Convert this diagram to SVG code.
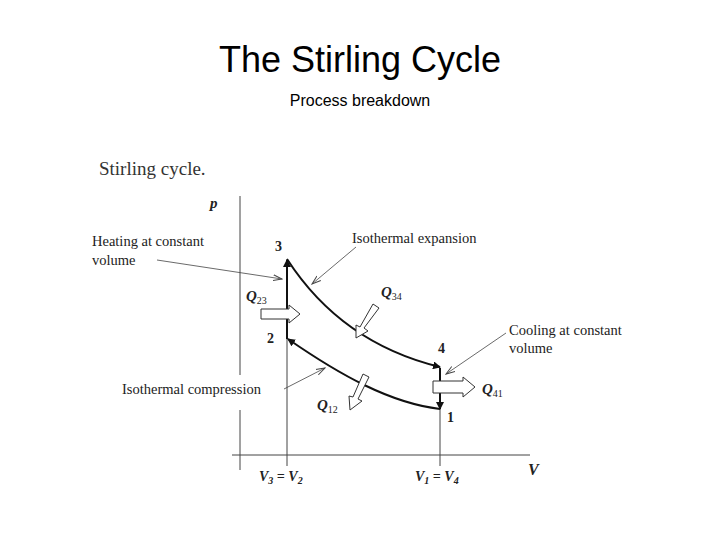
<svg xmlns="http://www.w3.org/2000/svg" width="720" height="540" viewBox="0 0 720 540">
<style>
.t{font-family:"Liberation Serif",serif;fill:#222;font-size:14.5px}
.b{font-family:"Liberation Serif",serif;font-weight:bold;font-style:italic;fill:#222}
.n{font-family:"Liberation Serif",serif;font-weight:bold;fill:#222;font-size:14px}
.ax{stroke:#444;stroke-width:1;fill:none}
.c{stroke:#111;stroke-width:2;fill:none;marker-end:url(#ah)}
.th{stroke:#444;stroke-width:0.8;fill:none;marker-end:url(#sa)}
.h{fill:#fff;stroke:#333;stroke-width:1}
</style>
<defs>
<marker id="ah" markerWidth="8" markerHeight="8" refX="7" refY="4" orient="auto" markerUnits="userSpaceOnUse"><path d="M0,0 L8,4 L0,8 z" fill="#111"/></marker>
<marker id="sa" markerWidth="10" markerHeight="8" refX="9" refY="4" orient="auto" markerUnits="userSpaceOnUse"><path d="M0,1 L9,4 L0,7" fill="none" stroke="#444"/></marker>
</defs>
<rect width="720" height="540" fill="#fff"/>
<text x="360" y="72" text-anchor="middle" font-family="Liberation Sans,sans-serif" font-size="36">The Stirling Cycle</text>
<text x="360" y="106" text-anchor="middle" font-family="Liberation Sans,sans-serif" font-size="16">Process breakdown</text>
<text x="99" y="175" font-family="Liberation Serif,serif" fill="#333" font-size="19">Stirling cycle.</text>
<g id="axes">
<path class="ax" d="M240,196 V375 M240,410 V470 M232,455 H530 M287,339 V466 M440,409 V466"/>
<text x="210" y="208" class="b" font-size="15">p</text>
<text x="528" y="475" class="b" font-size="16">V</text>
<text x="259" y="481" class="b" font-size="14">V<tspan font-size="10" dy="3">3</tspan><tspan dy="-3"> = V</tspan><tspan font-size="10" dy="3">2</tspan></text>
<text x="415" y="481" class="b" font-size="14">V<tspan font-size="10" dy="3">1</tspan><tspan dy="-3"> = V</tspan><tspan font-size="10" dy="3">4</tspan></text>
</g>
<g id="connectors">
<path class="c" d="M287,339 V260"/>
<path class="c" d="M287,259 C320,310 370,350 440,367"/>
<path class="c" d="M440,368 V409"/>
<path class="c" d="M440,409 C390,403 340,375 288,339"/>
<path class="th" d="M157,260 L282,279"/>
<path class="th" d="M356,247 L312,284"/>
<path class="th" d="M506,333 L446,374"/>
<path class="th" d="M284,389 L325,368"/>
</g>
<g id="heat">
<path class="h" d="M261,309 H289 V305 L300,314 L289,323 V319 H261 Z"/>
<path class="h" d="M433,381 H463 V377 L475,387 L463,397 V393 H433 Z"/>
<path class="h" d="M373,304 L379,308 L364,328 L368,331 L356,338 L356,325 L360,327 Z"/>
<path class="h" d="M363,374 L369,377 L358,399 L362,401 L350,410 L349,396 L353,397 Z"/>
</g>
<g id="labels">
<text x="92" y="246" class="t">Heating at constant</text>
<text x="92" y="265" class="t">volume</text>
<text x="352" y="243" class="t">Isothermal expansion</text>
<text x="509" y="335" class="t">Cooling at constant</text>
<text x="509" y="353" class="t">volume</text>
<text x="122" y="394" class="t">Isothermal compression</text>
<text x="275" y="251" class="n">3</text>
<text x="267" y="343" class="n">2</text>
<text x="438" y="353" class="n">4</text>
<text x="447" y="422" class="n">1</text>
<text x="246" y="301" class="b" font-size="15">Q<tspan font-size="10" font-style="normal" font-weight="normal" dy="3">23</tspan></text>
<text x="381" y="297" class="b" font-size="15">Q<tspan font-size="10" font-style="normal" font-weight="normal" dy="3">34</tspan></text>
<text x="482" y="394" class="b" font-size="15">Q<tspan font-size="10" font-style="normal" font-weight="normal" dy="3">41</tspan></text>
<text x="317" y="410" class="b" font-size="15">Q<tspan font-size="10" font-style="normal" font-weight="normal" dy="3">12</tspan></text>
</g>
</svg>
